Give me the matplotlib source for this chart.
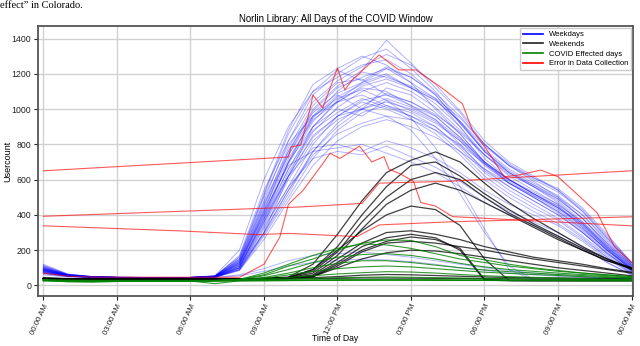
import matplotlib
matplotlib.use("Agg")
import matplotlib.pyplot as plt
from matplotlib.lines import Line2D

# ---------------- data (hourly samples, 00:00 .. 24:00) ----------------
HOURS = list(range(25))

WEEKDAYS = [
    [110,62,50,46,45,45,45,52,150,480,820,1080,1200,1290,1340,1230,1100,930,760,640,560,480,360,220,100],
    [95,58,48,45,44,44,45,50,120,420,760,1000,1130,1220,1390,1260,1120,980,800,680,590,500,380,230,110],
    [80,55,47,45,44,44,44,48,100,380,700,960,1100,1210,1180,1130,1060,900,720,600,520,450,330,200,90],
    [100,60,49,46,45,45,45,55,160,520,880,1140,1230,1300,1250,1150,1000,860,700,580,500,420,320,200,95],
    [70,52,46,44,44,44,44,47,90,300,620,900,1050,1150,1230,1180,1080,920,760,640,560,470,350,210,85],
    [90,56,48,45,45,45,45,50,130,400,700,950,1080,1000,1120,1080,980,860,700,600,520,440,340,210,100],
    [120,65,50,46,45,45,45,52,140,450,780,1020,1150,1170,1080,1020,960,840,690,580,500,410,300,180,80],
    [85,55,47,45,44,44,44,48,110,360,640,870,1010,1100,1150,1100,1010,880,740,620,540,460,350,220,105],
    [75,53,46,44,44,44,44,47,95,320,560,800,960,1050,1080,1040,960,840,700,600,520,440,330,200,90],
    [105,60,49,46,45,45,45,51,135,430,720,940,1040,1120,1100,1020,940,800,650,560,480,400,300,180,85],
    [90,57,48,45,45,45,45,50,120,390,660,880,980,1060,1010,960,900,780,640,540,460,380,280,170,75],
    [80,54,47,45,44,44,44,48,100,340,600,820,940,1000,1040,1000,930,820,680,580,500,420,310,190,80],
    [95,58,48,45,45,45,45,50,125,410,700,900,1000,960,1050,990,920,820,690,590,510,430,320,200,95],
    [70,52,46,44,44,44,44,46,85,280,500,720,880,980,1020,980,900,790,660,560,480,400,300,185,85],
    [100,60,49,46,45,45,45,52,145,470,760,980,1090,1150,1200,1120,1030,900,740,630,560,490,380,240,120],
    [85,55,47,45,44,44,44,48,105,350,620,840,960,1040,1000,940,860,740,600,500,420,350,260,160,70],
    [110,62,50,46,45,45,45,53,150,500,800,960,1040,1080,1020,960,880,760,620,520,440,370,270,160,70],
    [75,53,46,44,44,44,44,47,90,300,540,760,900,1000,1060,1010,940,830,700,600,520,450,340,210,95],
    [90,56,48,45,45,45,45,50,115,380,620,780,800,760,820,780,720,640,540,460,400,340,250,150,65],
    [80,54,47,45,44,44,44,48,100,330,560,720,760,740,790,730,670,590,500,420,360,300,220,130,60],
    [95,58,48,45,45,45,45,50,130,420,680,760,780,800,750,700,640,560,470,400,340,280,210,130,60],
    [105,60,49,46,45,45,45,51,130,440,740,990,1120,1180,1230,1150,1060,950,800,680,600,530,420,270,130],
    [85,55,47,45,44,44,44,48,110,370,660,900,1040,1130,1170,1120,1050,930,790,680,610,550,440,290,130],
    [70,52,46,44,44,44,44,47,90,290,520,760,920,1020,1090,1040,970,870,740,640,570,500,400,260,120],
    [100,59,48,45,45,45,45,52,140,460,740,960,1060,1110,1050,950,780,560,320,90,30,28,28,28,28],
    [85,55,47,45,44,44,44,48,110,360,620,850,960,1000,960,880,720,520,300,110,35,30,30,30,30],
    [90,57,48,45,45,45,45,55,200,600,900,1100,1180,1250,1280,1200,1080,920,760,650,570,490,380,240,110],
    [80,54,47,45,44,44,44,50,170,540,820,1040,1160,1240,1310,1250,1140,990,820,700,620,540,420,270,120],
    [95,58,48,45,45,45,45,49,100,300,540,740,860,920,960,940,880,800,690,600,530,460,360,230,110],
    [75,53,46,44,44,44,44,47,85,260,480,680,820,900,940,900,840,760,660,580,510,440,350,220,100],
    [60,48,44,42,42,42,42,44,55,80,110,130,140,150,145,135,120,100,85,70,60,52,46,42,38],
    [65,50,45,43,43,43,43,45,60,95,140,170,180,190,175,160,140,120,100,85,70,60,50,44,40],
    [115,63,50,46,45,45,45,54,160,510,860,1100,1220,1160,1240,1180,1090,960,800,690,610,540,430,280,130],
    [88,56,48,45,45,45,45,50,120,400,690,930,1070,1140,1190,1120,1050,930,770,660,580,510,400,250,115],
]

WEEKENDS = [
    [40,38,37,36,36,36,36,36,37,40,48,120,290,480,640,710,757,700,580,470,380,300,220,150,90],
    [42,39,38,37,37,37,37,37,38,40,45,90,220,400,560,680,700,620,520,430,350,280,210,150,100],
    [38,36,35,35,35,35,35,35,36,38,44,80,190,360,500,600,640,600,500,410,340,270,200,140,100],
    [40,37,36,36,36,36,36,36,37,39,42,70,170,320,460,540,580,540,470,400,330,260,200,140,95],
    [36,35,34,34,34,34,34,34,35,37,45,90,200,310,400,450,430,340,150,28,26,26,26,26,26],
    [40,38,37,36,36,36,36,36,37,39,42,60,150,240,300,310,290,260,220,190,160,140,120,95,75],
    [37,35,34,34,34,34,34,34,35,37,40,55,130,220,270,290,270,200,30,27,27,27,27,27,27],
    [38,36,35,35,35,35,35,35,36,38,40,50,120,200,250,275,260,210,35,28,28,28,28,28,28],
    [41,38,37,37,37,37,37,37,38,39,41,50,110,190,240,250,240,220,200,175,150,130,110,90,70],
    [39,37,36,36,36,36,36,36,37,38,40,50,100,150,185,200,195,180,160,140,120,100,85,70,55],
    [36,35,34,34,34,34,34,34,34,35,36,38,40,42,42,41,40,39,38,37,36,36,35,35,35],
    [40,38,37,37,37,37,37,37,37,38,40,44,50,58,62,60,56,52,48,45,43,42,41,40,40],
]

COVID_DAYS = [
    [30,28,27,27,27,27,27,28,35,60,110,150,200,240,258,255,220,170,145,120,100,85,70,60,50],
    [28,27,26,26,26,26,26,27,34,70,120,170,210,235,230,210,180,150,130,110,95,80,70,60,50],
    [30,28,27,27,27,27,27,28,32,55,90,130,160,175,180,170,150,125,105,90,80,70,62,55,45],
    [27,26,25,25,25,25,25,26,30,45,70,100,125,140,140,130,115,100,88,78,70,62,56,50,42],
    [29,27,26,26,26,26,26,27,30,40,60,80,95,105,110,105,95,85,75,68,62,56,50,45,40],
    [28,26,25,25,25,25,25,26,28,35,45,55,65,72,78,76,70,62,55,50,46,42,38,35,32],
    [30,20,18,22,26,26,26,27,28,30,31,32,33,33,34,33,33,32,32,31,31,30,30,30,30],
    [27,26,25,25,25,25,25,10,26,27,28,29,30,30,30,30,30,29,29,28,28,28,27,27,27],
    [32,30,29,29,29,29,29,29,30,32,36,40,44,46,48,46,44,42,40,38,36,35,34,33,32],
    [26,25,24,24,24,24,24,24,25,26,27,28,28,29,29,29,28,28,28,27,27,27,26,26,26],
]

# error days: irregular sampling (gaps joined by straight segments)
ERR1_H = [0, 10.0, 10.1, 10.5, 10.9, 11.0, 11.4, 12.0, 12.3, 12.6, 13.7, 14.5, 15.2, 16.2,
          17.1, 17.5, 18.1, 18.8, 19.4, 20.3, 21.0, 21.9, 22.6, 23.3, 24.0]
ERR1_V = [650, 728, 785, 796, 1011, 1080, 1006, 1233, 1108, 1165, 1307, 1222, 1222, 1126,
          1030, 882, 768, 616, 626, 654, 616, 502, 411, 220, 130]
ERR2_H = [0, 10.5, 13.0, 13.7, 16.5, 24.0]
ERR2_V = [392, 445, 465, 580, 590, 650]
ERR3_H = [0, 1, 2, 8, 9.0, 9.65, 10.0, 10.6, 11.4, 11.7, 12.1, 12.9, 13.4, 13.9, 14.1,
          14.6, 15.1, 15.4, 16.0, 16.7, 24.0]
ERR3_V = [70, 52, 47, 46, 120, 275, 460, 540, 690, 750, 720, 790, 700, 730, 660,
          630, 590, 470, 450, 390, 338]
ERR4_H = [0, 5.6, 8.8, 10.0, 12.8, 13.7, 16.5, 24.0]
ERR4_V = [338, 309, 288, 295, 277, 343, 360, 389]

TICK_HOURS = [0, 3, 6, 9, 12, 15, 18, 21, 24]
TICK_LABELS = ["00:00 AM", "03:00 AM", "06:00 AM", "09:00 AM", "12:00 PM",
               "03:00 PM", "06:00 PM", "09:00 PM", "00:00 AM"]
Y_TICKS = [0, 200, 400, 600, 800, 1000, 1200, 1400]
LEGEND_LABELS = ["Weekdays", "Weekends", "COVID Effected days", "Error in Data Collection"]

# ---------------- figure ----------------
plt.rcParams['font.family'] = ['Liberation Sans', 'DejaVu Sans']
fig = plt.figure(figsize=(6.4, 3.46), dpi=100)
fig.patch.set_facecolor('white')
ax = fig.add_axes([38/640, 1-296/346, (633-38)/640, (296-26)/346])

for s in WEEKDAYS:
    ax.plot(HOURS, s, color='blue', lw=0.7, alpha=0.3)
for s in WEEKENDS:
    ax.plot(HOURS, s, color='black', lw=0.9, alpha=0.75)
for s in COVID_DAYS:
    ax.plot(HOURS, s, color='green', lw=0.8, alpha=0.8)
for h, v in [(ERR1_H, ERR1_V), (ERR2_H, ERR2_V), (ERR3_H, ERR3_V), (ERR4_H, ERR4_V)]:
    ax.plot(h, v, color='red', lw=0.8, alpha=0.65)

ax.set_xlim(-0.22, 24.06)
ax.set_ylim(-60, 1471)
ax.set_xticks(TICK_HOURS)
ax.set_xticklabels(TICK_LABELS, rotation=65, ha='right', rotation_mode='anchor', fontsize=5.7)
ax.set_yticks(Y_TICKS)
ax.set_yticklabels([str(v) for v in Y_TICKS], fontsize=6.3)
ax.tick_params(axis='both', length=3, width=0.8, colors='#222222', pad=2)
ax.grid(True, color='#d2d2d2', lw=1.0)
ax.set_axisbelow(True)
for sp in ax.spines.values():
    sp.set_color('#555555')
    sp.set_linewidth(1.3)

ax.set_title("Norlin Library: All Days of the COVID Window", fontsize=6.9, pad=3)
ax.set_xlabel("Time of Day", fontsize=6.2)
ax.xaxis.set_label_coords(0.5, -0.142)
ax.set_ylabel("Usercount", fontsize=6.5)
ax.yaxis.set_label_coords(-0.043, 0.5)

handles = [Line2D([], [], color=c, lw=1.2) for c in ['blue', '#222222', 'green', 'red']]
ax.legend(handles, LEGEND_LABELS, loc='upper right', fontsize=5.5, framealpha=1,
          edgecolor='#cccccc', borderaxespad=0.25, handlelength=2.6, labelspacing=0.3,
          borderpad=0.4)

fig.text(0.0, 0.997, "effect\u201d in Colorado.", family='Liberation Serif',
         fontsize=7.5, va='top', ha='left')

fig.savefig("out.png", dpi=100)
